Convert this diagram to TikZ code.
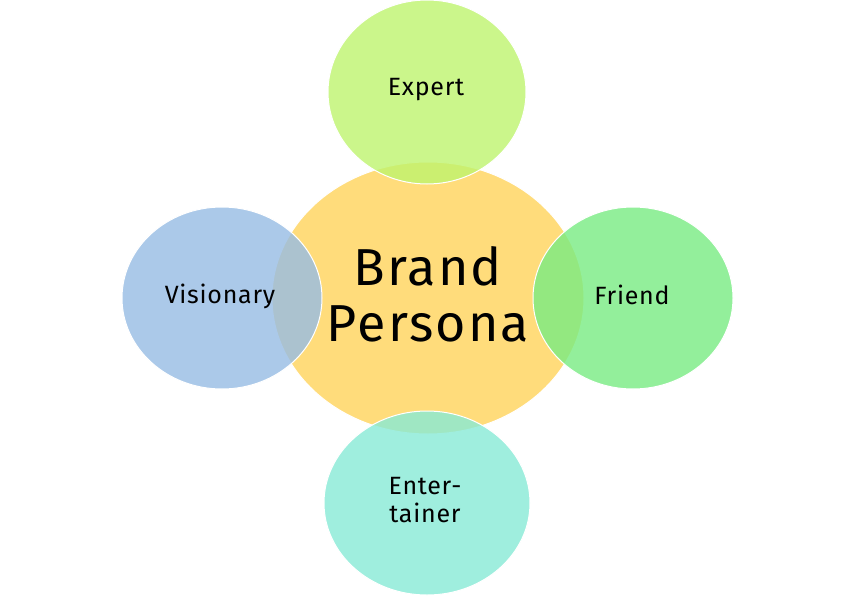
\documentclass[tikz,border=0pt]{standalone}
\usepackage{fontspec}
\setmainfont{Fira Sans}
\begin{document}
\begin{tikzpicture}[x=1pt,y=-1pt,
  bub/.style={draw=white,line width=1pt,fill opacity=0.8,text opacity=1,align=center,font=\fontsize{25}{28}\selectfont\addfontfeature{LetterSpace=3}}]
\useasboundingbox (0,0) rectangle (854,597);
\fill[white] (0,0) rectangle (854,597);
\path[bub,fill={rgb,255:red,255;green,214;blue,100},fill opacity=0.85] (428,298) ellipse [x radius=156,y radius=136];
\node[font=\fontsize{52}{56}\selectfont\addfontfeature{LetterSpace=4},align=center] (c) at (428,294) {Brand\\Persona};
\path[bub,fill={rgb,255:red,190;green,244;blue,110}] (427,92) ellipse [x radius=99,y radius=92];
\node[bub,draw=none] (e) at (426,90) {Expert};
\path[bub,fill={rgb,255:red,150;green,188;blue,228}] (222,298) ellipse [x radius=100,y radius=91];
\node[bub,draw=none] (v) at (220,296) {Visionary};
\path[bub,fill={rgb,255:red,120;green,236;blue,130}] (633,298) ellipse [x radius=100,y radius=91];
\node[bub,draw=none] (f) at (632,295) {Friend};
\path[bub,fill={rgb,255:red,136;green,234;blue,214}] (427,503) ellipse [x radius=103,y radius=92];
\node[bub,draw=none] (t) at (425,500) {Enter-\\tainer};
\end{tikzpicture}
\end{document}
